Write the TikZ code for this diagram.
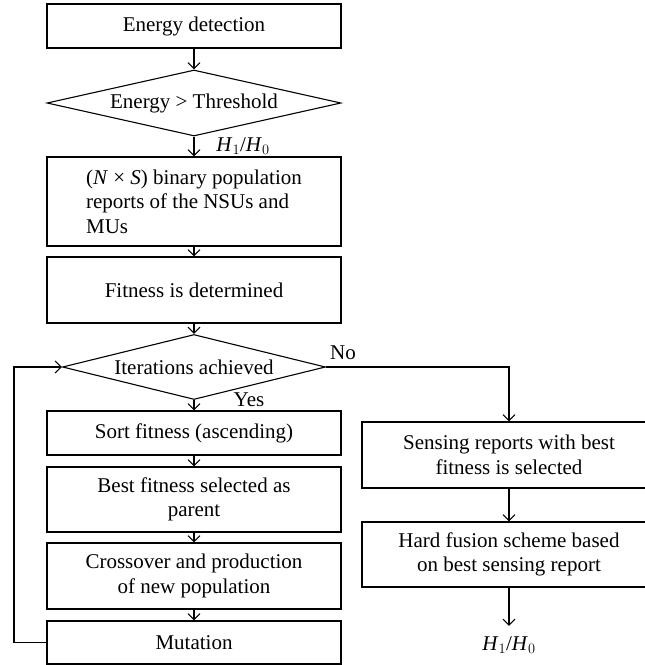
\documentclass[tikz,border=0pt]{standalone}
\usepackage{fontspec}
\setmainfont{Liberation Serif}
\usetikzlibrary{shapes.geometric,arrows.meta}
\tikzset{
  every node/.style={font=\fontsize{21}{24.5}\selectfont},
  procbox/.style={draw, line width=1.1pt, minimum width=294pt, inner sep=0pt, align=center},
  decbox/.style={draw, diamond, line width=1.1pt, inner sep=0pt},
  conn/.style={line width=1.1pt, -{Straight Barb[length=6pt,width=12pt,line width=1.1pt]}},
  lbl/.style={inner sep=0pt}
}
\begin{document}
\begin{tikzpicture}[x=1pt,y=-1pt]
\useasboundingbox (0,0) rectangle (645,665);
\node[procbox, minimum height=44pt] (ed) at (194,26) {Energy detection};
\node[decbox, minimum width=294pt, minimum height=66pt, aspect=4.45] (thr) at (194,103) {Energy > Threshold};
\node[procbox, minimum height=89pt, align=left] (pop) at (194,201.5) {(\textit{N} × \textit{S}) binary population\\reports of the NSUs and\\MUs};
\node[procbox, minimum height=66pt] (fit) at (194,290) {Fitness is determined};
\node[decbox, minimum width=263pt, minimum height=65pt, aspect=4.05] (iter) at (194,367) {Iterations achieved};
\node[procbox, minimum height=44pt] (sort) at (194,433) {Sort fitness (ascending)};
\node[procbox, minimum height=65pt] (best) at (194,499.5) {Best fitness selected as\\parent};
\node[procbox, minimum height=66pt] (cross) at (194,576) {Crossover and production\\of new population};
\node[procbox, minimum height=43pt] (mut) at (194,642.5) {Mutation};
\node[procbox, minimum height=66pt] (sens) at (509,455) {Sensing reports with best\\fitness is selected};
\node[procbox, minimum height=65pt] (hard) at (509,554.5) {Hard fusion scheme based\\on best sensing report};
\node[lbl, anchor=base] (out) at (509,650) {\textit{H}$_1$/\textit{H}$_0$};
\node[lbl] (h10) at (243,146) {\textit{H}$_1$/\textit{H}$_0$};
\node[lbl] (yes) at (249,400) {Yes};
\node[lbl] (no) at (343,353) {No};
\coordinate (loopb) at (14,642.5);
\coordinate (loopt) at (14,367);
\coordinate (nocorner) at (509,367);
\draw[conn] (ed) -- (thr);
\draw[conn] (thr) -- (pop);
\draw[conn] (pop) -- (fit);
\draw[conn] (fit) -- (iter);
\draw[conn] (iter) -- (sort);
\draw[conn] (sort) -- (best);
\draw[conn] (best) -- (cross);
\draw[conn] (cross) -- (mut);
\draw[conn] (mut.west) -- (loopb) -- (loopt) -- (iter.west);
\draw[conn] (iter.east) -- (nocorner) -- (sens.north);
\draw[conn] (sens) -- (hard);
\draw[conn, shorten >=10pt] (hard.south) -- (out.north);
\end{tikzpicture}
\end{document}
